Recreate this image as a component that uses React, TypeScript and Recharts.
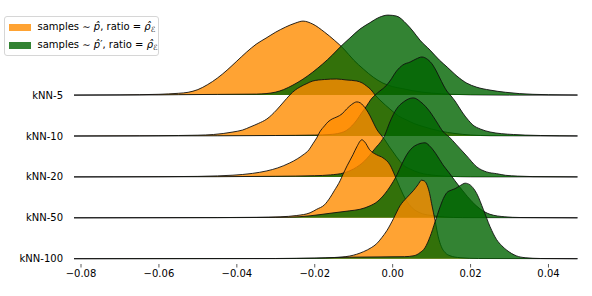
import React from 'react';
import { ComposedChart, Area, XAxis, YAxis, Legend } from 'recharts';

type Pt = [number, number];

// Row labels (top to bottom) and x tick values
const ROW_LABELS = ['kNN-5', 'kNN-10', 'kNN-20', 'kNN-50', 'kNN-100'];
const X_TICKS = [-0.08, -0.06, -0.04, -0.02, 0, 0.02, 0.04];

// Density curves: [x, density height]
const knn5Orange: Pt[] = [[-0.0818,0],[-0.07,0.2],[-0.065,0.4],[-0.06,0.8],[-0.055,1.8],[-0.0525,2.8],[-0.05,5.5],[-0.0475,10.5],[-0.045,17],[-0.0425,25],[-0.04,34],[-0.0375,43],[-0.035,51],[-0.0325,57],[-0.03,63],[-0.0275,68],[-0.025,72],[-0.023,74],[-0.0205,71],[-0.0175,63],[-0.015,55],[-0.0125,46],[-0.01,35],[-0.0075,26],[-0.005,18],[-0.0025,12],[0,8.5],[0.0025,6.5],[0.005,4.5],[0.0075,3],[0.01,2],[0.0125,1.3],[0.015,0.8],[0.02,0.3],[0.03,0],[0.0475,0]];
const knn5Green: Pt[] = [[-0.0818,0],[-0.06,0.2],[-0.055,0.4],[-0.045,0.7],[-0.035,1],[-0.0325,1.5],[-0.03,3],[-0.028,5.5],[-0.0256,10],[-0.023,16],[-0.0205,23],[-0.018,31],[-0.0155,40],[-0.0135,48],[-0.011,57],[-0.0084,66],[-0.006,72],[-0.0033,78],[-0.0012,80],[0.001,79],[0.0036,71],[0.0052,64],[0.007,55],[0.0096,45],[0.012,35],[0.014,28],[0.0165,19],[0.019,12],[0.0215,8],[0.025,5],[0.029,2.8],[0.0325,1.5],[0.036,0.8],[0.04,0.4],[0.0475,0.1]];
const knn10Orange: Pt[] = [[-0.0818,0],[-0.065,0.2],[-0.06,0.3],[-0.055,0.5],[-0.05,0.8],[-0.046,1.5],[-0.0435,2.5],[-0.041,4],[-0.0385,6],[-0.0366,9],[-0.0345,12.5],[-0.0323,17],[-0.0298,26],[-0.028,34],[-0.0264,41],[-0.025,46],[-0.0238,49],[-0.022,52.5],[-0.0205,55],[-0.0175,56.5],[-0.0144,57],[-0.0118,56],[-0.0092,55],[-0.0078,53],[-0.0067,50],[-0.0055,46],[-0.0045,41],[-0.003,35],[-0.0007,27],[0.0015,20],[0.0036,16],[0.0055,12.5],[0.0078,9.5],[0.01,7],[0.0121,5],[0.016,2.5],[0.02,1],[0.025,0.3],[0.0475,0]];
const knn10Green: Pt[] = [[-0.0818,0],[-0.045,0.2],[-0.03,0.5],[-0.02,0.9],[-0.0161,1.5],[-0.0135,3],[-0.0118,5.7],[-0.0105,10],[-0.0092,16],[-0.008,23],[-0.0067,30],[-0.0055,37],[-0.0045,41],[-0.0033,45],[-0.002,49],[-0.0007,55],[0.001,65],[0.0026,71],[0.0045,74],[0.006,77],[0.0075,79],[0.009,76.5],[0.0103,71],[0.0112,65],[0.0121,58],[0.013,51],[0.0139,45],[0.015,40],[0.016,35],[0.017,29],[0.018,23],[0.0195,15.5],[0.0206,11],[0.0225,7],[0.025,4],[0.028,2.3],[0.031,1.5],[0.034,0.9],[0.038,0.5],[0.0475,0.1]];
const knn20Orange: Pt[] = [[-0.0818,0],[-0.06,0.2],[-0.05,0.5],[-0.045,1],[-0.041,1.7],[-0.036,3.5],[-0.0323,6],[-0.0295,9],[-0.0264,14],[-0.0245,18],[-0.023,22],[-0.0215,27],[-0.0205,33],[-0.0195,39],[-0.0187,45],[-0.0175,51],[-0.0166,55],[-0.0155,58],[-0.0143,60],[-0.013,63],[-0.0118,68],[-0.0105,72.5],[-0.0092,75],[-0.0083,74],[-0.0076,71.5],[-0.0067,67],[-0.0058,61],[-0.0048,53],[-0.004,47],[-0.003,42],[-0.002,37],[-0.001,31],[0.0001,25],[0.0019,15.5],[0.003,11],[0.0044,8],[0.007,4],[0.0109,1.5],[0.015,0.5],[0.02,0.1],[0.0475,0]];
const knn20Green: Pt[] = [[-0.0818,0],[-0.045,0.2],[-0.03,0.6],[-0.02,1.2],[-0.016,2],[-0.0125,4],[-0.01,8],[-0.0072,16],[-0.0046,28],[-0.002,42],[-0.0007,55],[0.001,68],[0.0028,75],[0.0053,79],[0.0072,75],[0.0096,65],[0.0113,55],[0.013,45],[0.0145,40],[0.0164,32],[0.019,21],[0.0216,10],[0.0241,5],[0.0267,3.2],[0.029,1.6],[0.032,0.8],[0.036,0.3],[0.0475,0]];
const knn50Orange: Pt[] = [[-0.0818,0],[-0.045,0.2],[-0.035,0.5],[-0.0289,1],[-0.0246,2.3],[-0.0212,5],[-0.0195,8.5],[-0.0175,13],[-0.0161,20],[-0.015,27],[-0.0135,37],[-0.0128,43],[-0.0117,52],[-0.0102,63],[-0.0092,71],[-0.0079,78],[-0.0072,76],[-0.0059,68],[-0.0041,63],[-0.0025,60],[-0.0007,53],[0.0006,42],[0.0019,30],[0.0034,18],[0.005,10],[0.007,5],[0.0096,2.5],[0.0134,0.8],[0.018,0.2],[0.0475,0]];
const knn50Green: Pt[] = [[-0.0818,0],[-0.04,0.2],[-0.03,0.4],[-0.0264,0.6],[-0.0212,2],[-0.0161,4.5],[-0.011,7],[-0.0084,8.5],[-0.0058,12],[-0.004,16],[-0.002,24],[-0.0007,31],[0.0011,43],[0.0024,54],[0.0036,63],[0.0057,72],[0.0083,75],[0.0097,71],[0.0111,64],[0.0129,53],[0.0145,45],[0.016,37],[0.018,27],[0.0204,16],[0.0224,9],[0.025,3.5],[0.0288,1],[0.0327,0.3],[0.0475,0]];
const knn100Orange: Pt[] = [[-0.0818,0],[-0.03,0.1],[-0.0195,0.5],[-0.015,1.2],[-0.011,2.7],[-0.0075,7],[-0.0055,11],[-0.0041,15],[-0.0028,21],[-0.0015,28],[0.0002,40],[0.0019,53],[0.0036,61],[0.0053,68],[0.0065,74],[0.0074,78.5],[0.0082,77.5],[0.0089,73],[0.0095,65],[0.01,55],[0.0109,38],[0.0117,22],[0.0125,12],[0.0135,6],[0.0147,3],[0.0173,1],[0.022,0.2],[0.0475,0]];
const knn100Green: Pt[] = [[-0.0818,0],[-0.03,0.2],[-0.02,0.6],[-0.011,1.5],[-0.003,1.8],[0.003,2],[0.0055,3],[0.007,6],[0.0083,11],[0.0096,22],[0.0109,37],[0.0121,51],[0.013,60],[0.0139,66],[0.015,68.5],[0.016,70],[0.0175,73.5],[0.0186,75.5],[0.0198,74],[0.0208,70],[0.0216,65],[0.0233,49],[0.025,32],[0.0267,19],[0.028,13],[0.0293,8.5],[0.0318,2.8],[0.034,1],[0.038,0.2],[0.0475,0]];

const ORANGE_SERIES = [knn5Orange, knn10Orange, knn20Orange, knn50Orange, knn100Orange];
const GREEN_SERIES = [knn5Green, knn10Green, knn20Green, knn50Green, knn100Green];

const ORANGE = '#FF8C00';
const GREEN = '#006400';
const ROW_GAP = 40.9;
const X_DOMAIN: [number, number] = [-0.0818, 0.0475];
const Y_DOMAIN: [number, number] = [-5.3, 253.7];
const FONT = '"DejaVu Sans", Verdana, sans-serif';

const baseOf = (i: number) => (ROW_LABELS.length - 1 - i) * ROW_GAP;
const toRows = (pts: Pt[], base: number) => pts.map(([x, h]) => ({ x, v: base + h }));

const fmtX = (v: number) => {
  const s = Math.abs(v).toFixed(2);
  return v < -1e-9 ? '\u2212' + s : s;
};
const fmtY = (v: number) => {
  const idx = ROW_LABELS.length - 1 - Math.round(v / ROW_GAP);
  return ROW_LABELS[idx] ?? '';
};

const legendItems = [
  { color: ORANGE, prime: '' },
  { color: GREEN, prime: '\u2032' },
];

const renderLegend = () => (
  <div
    style={{
      boxSizing: 'border-box',
      width: 155,
      height: 40,
      border: '1px solid #d6d6d6',
      borderRadius: 3,
      background: 'rgba(255,255,255,0.8)',
      fontFamily: FONT,
      fontSize: 10,
      color: '#000',
      position: 'relative',
    }}
  >
    {legendItems.map((it, i) => (
      <div
        key={i}
        style={{
          position: 'absolute',
          left: 4,
          top: 4.5 + i * 18.4,
          height: 12,
          display: 'flex',
          alignItems: 'center',
          whiteSpace: 'nowrap',
        }}
      >
        <span style={{ display: 'inline-block', width: 22, height: 7, background: it.color, opacity: 0.8, marginRight: 7 }} />
        <span>
          samples {'\u223C'} <i>p&#770;</i>{it.prime}, ratio = <i>&#961;&#770;</i>
          <sub style={{ fontSize: 7.5, verticalAlign: -2 }}>&#8496;</sub>
        </span>
      </div>
    ))}
  </div>
);

export default function App() {
  const areas: React.ReactNode[] = [];
  ROW_LABELS.forEach((label, i) => {
    const base = baseOf(i);
    [
      { pts: ORANGE_SERIES[i], color: ORANGE, key: 'o' },
      { pts: GREEN_SERIES[i], color: GREEN, key: 'g' },
    ].forEach((s) => {
      areas.push(
        <Area
          key={label + s.key}
          data={toRows(s.pts, base)}
          dataKey="v"
          baseValue={base}
          type="monotone"
          fill={s.color}
          fillOpacity={0.8}
          stroke="#111"
          strokeWidth={0.9}
          dot={false}
          activeDot={false}
          isAnimationActive={false}
          legendType="none"
        />
      );
    });
  });

  return (
    <div style={{ position: 'absolute', left: 0, top: 0, width: 592, height: 296, background: '#fff', fontFamily: FONT }}>
      <ComposedChart width={592} height={296} margin={{ top: 5, right: 14.3, bottom: 2, left: 0 }}>
        <XAxis
          dataKey="x"
          type="number"
          domain={X_DOMAIN}
          allowDataOverflow
          ticks={X_TICKS}
          tickFormatter={fmtX}
          axisLine={false}
          tickLine={{ stroke: '#333', strokeWidth: 0.8 }}
          tickSize={3.5}
          tickMargin={2.5}
          height={30}
          interval={0}
          tick={{ fill: '#000', fontSize: 10, fontFamily: FONT }}
        />
        <YAxis
          type="number"
          domain={Y_DOMAIN}
          allowDataOverflow
          ticks={ROW_LABELS.map((_, i) => baseOf(i))}
          tickFormatter={fmtY}
          axisLine={false}
          tickLine={false}
          tickSize={0}
          tickMargin={11}
          width={74}
          interval={0}
          tick={{ fill: '#000', fontSize: 10, fontFamily: FONT }}
        />
        {areas}
        <Legend
          content={renderLegend}
          layout="vertical"
          align="center"
          verticalAlign="middle"
          wrapperStyle={{ position: 'absolute', left: 3.5, top: 16, width: 155, height: 40, margin: 0, padding: 0 }}
        />
      </ComposedChart>
    </div>
  );
}
